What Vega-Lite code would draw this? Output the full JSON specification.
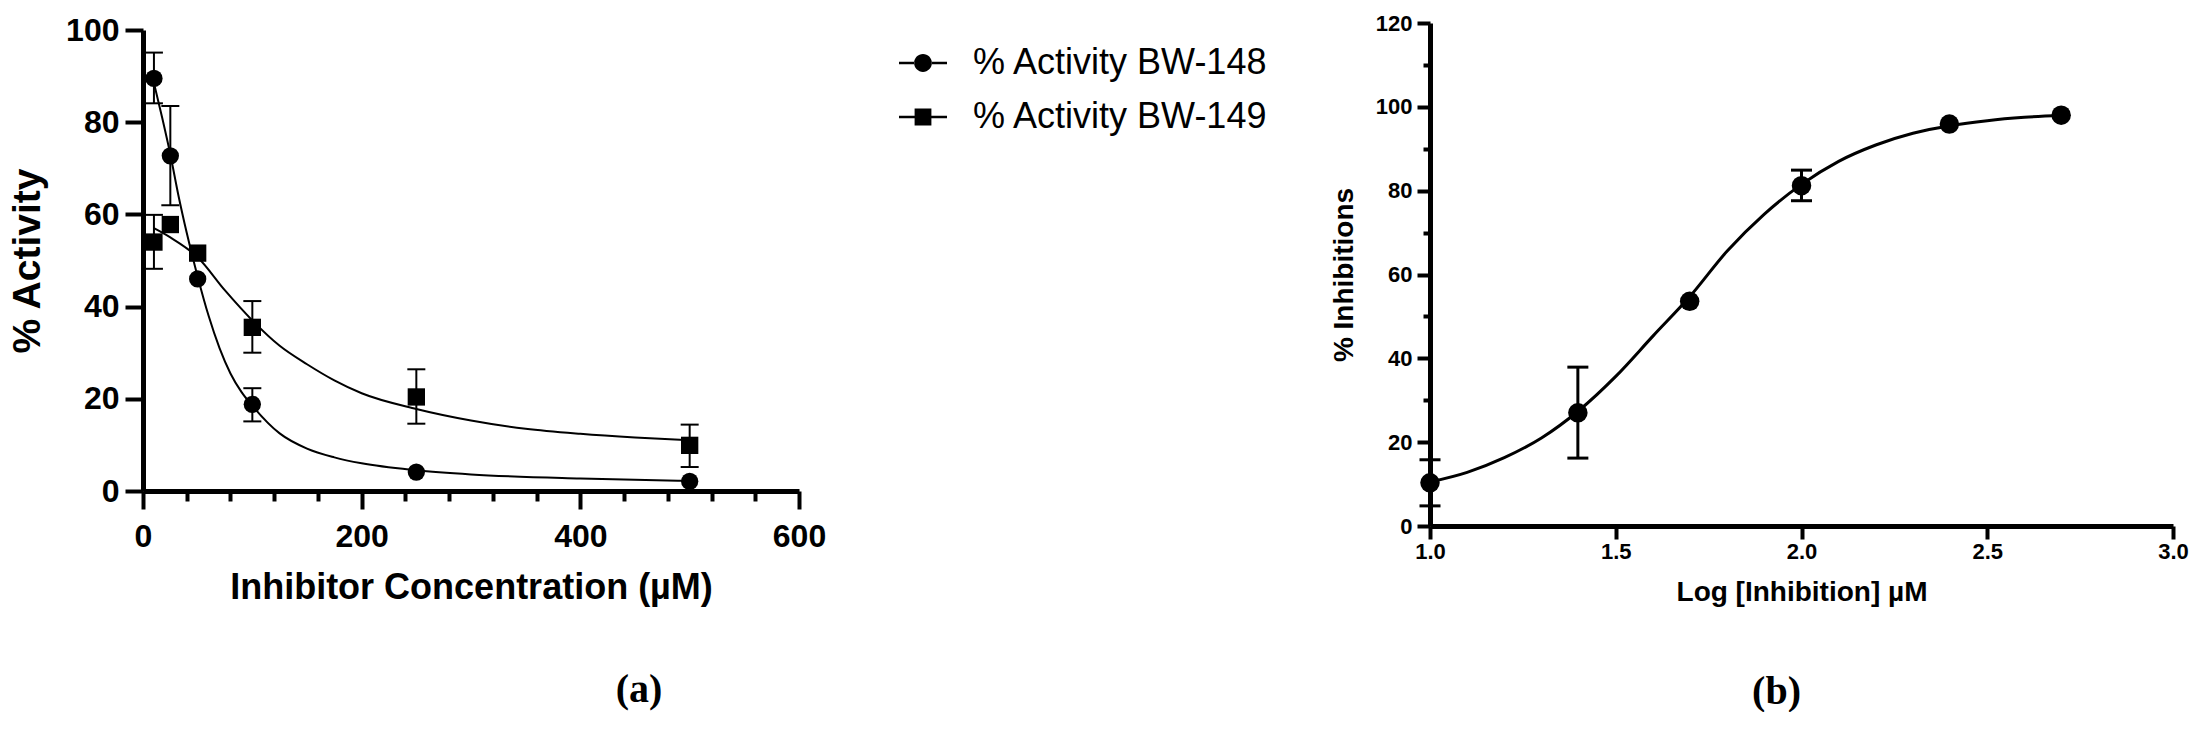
{
  "$schema": "https://vega.github.io/schema/vega-lite/v6.json",
  "background": "white",
  "padding": {"left": 8, "top": 12, "right": 0, "bottom": 0},
  "bounds": "flush",
  "spacing": 1287,
  "datasets": {
    "pts_a": [
      {"series": "% Activity BW-148", "conc": 10, "y": 89.5, "lo": 84.1, "hi": 95.1},
      {"series": "% Activity BW-148", "conc": 25, "y": 72.7, "lo": 62.0, "hi": 83.5},
      {"series": "% Activity BW-148", "conc": 50, "y": 46.0, "lo": null, "hi": null},
      {"series": "% Activity BW-148", "conc": 100, "y": 18.8, "lo": 15.1, "hi": 22.3},
      {"series": "% Activity BW-148", "conc": 250, "y": 4.1, "lo": null, "hi": null},
      {"series": "% Activity BW-148", "conc": 500, "y": 2.1, "lo": null, "hi": null},
      {"series": "% Activity BW-149", "conc": 10, "y": 54.0, "lo": 48.2, "hi": 59.9},
      {"series": "% Activity BW-149", "conc": 25, "y": 57.8, "lo": null, "hi": null},
      {"series": "% Activity BW-149", "conc": 50, "y": 51.6, "lo": null, "hi": null},
      {"series": "% Activity BW-149", "conc": 100, "y": 35.5, "lo": 30.0, "hi": 41.2},
      {"series": "% Activity BW-149", "conc": 250, "y": 20.4, "lo": 14.6, "hi": 26.4},
      {"series": "% Activity BW-149", "conc": 500, "y": 9.9, "lo": 5.2, "hi": 14.4}
    ],
    "curve_a": [
      {"series": "% Activity BW-148", "conc": 10, "y": 88.5},
      {"series": "% Activity BW-148", "conc": 17.5, "y": 81},
      {"series": "% Activity BW-148", "conc": 25, "y": 73},
      {"series": "% Activity BW-148", "conc": 32.5, "y": 64},
      {"series": "% Activity BW-148", "conc": 40, "y": 56},
      {"series": "% Activity BW-148", "conc": 50, "y": 46.5},
      {"series": "% Activity BW-148", "conc": 60, "y": 38},
      {"series": "% Activity BW-148", "conc": 70, "y": 31},
      {"series": "% Activity BW-148", "conc": 80, "y": 25.5},
      {"series": "% Activity BW-148", "conc": 90, "y": 21.5},
      {"series": "% Activity BW-148", "conc": 100, "y": 18.5},
      {"series": "% Activity BW-148", "conc": 125, "y": 12.5},
      {"series": "% Activity BW-148", "conc": 150, "y": 9.2},
      {"series": "% Activity BW-148", "conc": 175, "y": 7.3},
      {"series": "% Activity BW-148", "conc": 200, "y": 6.0},
      {"series": "% Activity BW-148", "conc": 250, "y": 4.5},
      {"series": "% Activity BW-148", "conc": 300, "y": 3.6},
      {"series": "% Activity BW-148", "conc": 400, "y": 2.7},
      {"series": "% Activity BW-148", "conc": 500, "y": 2.2},
      {"series": "% Activity BW-149", "conc": 10, "y": 57},
      {"series": "% Activity BW-149", "conc": 25, "y": 55},
      {"series": "% Activity BW-149", "conc": 50, "y": 50.7},
      {"series": "% Activity BW-149", "conc": 75, "y": 43.5},
      {"series": "% Activity BW-149", "conc": 100, "y": 37},
      {"series": "% Activity BW-149", "conc": 125, "y": 31.5},
      {"series": "% Activity BW-149", "conc": 150, "y": 27.5},
      {"series": "% Activity BW-149", "conc": 175, "y": 24},
      {"series": "% Activity BW-149", "conc": 200, "y": 21.2},
      {"series": "% Activity BW-149", "conc": 250, "y": 17.8},
      {"series": "% Activity BW-149", "conc": 300, "y": 15.3},
      {"series": "% Activity BW-149", "conc": 350, "y": 13.5},
      {"series": "% Activity BW-149", "conc": 400, "y": 12.4},
      {"series": "% Activity BW-149", "conc": 450, "y": 11.6},
      {"series": "% Activity BW-149", "conc": 500, "y": 11.0}
    ],
    "pts_b": [
      {"logc": 1.0, "y": 10.3, "lo": 4.8, "hi": 15.8},
      {"logc": 1.398, "y": 27.0, "lo": 16.2, "hi": 37.9},
      {"logc": 1.699, "y": 53.6, "lo": null, "hi": null},
      {"logc": 2.0, "y": 81.2, "lo": 77.6, "hi": 84.9},
      {"logc": 2.398, "y": 95.9, "lo": null, "hi": null},
      {"logc": 2.699, "y": 98.0, "lo": null, "hi": null}
    ],
    "curve_b": [
      {"logc": 1.0, "y": 10.5},
      {"logc": 1.1, "y": 12.8},
      {"logc": 1.2, "y": 16.3},
      {"logc": 1.3, "y": 21.0},
      {"logc": 1.4, "y": 27.5},
      {"logc": 1.5, "y": 35.7},
      {"logc": 1.6, "y": 45.3},
      {"logc": 1.7, "y": 54.8},
      {"logc": 1.8, "y": 65.6},
      {"logc": 1.9, "y": 74.4},
      {"logc": 2.0, "y": 81.5},
      {"logc": 2.1, "y": 87.0},
      {"logc": 2.2, "y": 90.9},
      {"logc": 2.3, "y": 93.7},
      {"logc": 2.4, "y": 95.5},
      {"logc": 2.5, "y": 96.7},
      {"logc": 2.6, "y": 97.5},
      {"logc": 2.7, "y": 98.0}
    ]
  },
  "hconcat": [
    {
      "bounds": "flush",
      "spacing": 0,
      "vconcat": [
        {
          "width": 20,
          "height": 7,
          "data": {"values": []},
          "mark": "point"
        },
        {
          "width": 656,
          "height": 461,
          "title": {"text": "(a)", "orient": "bottom", "anchor": "middle", "frame": "group", "dx": 168, "offset": 65, "font": "Liberation Serif", "fontSize": 40, "fontWeight": "bold", "color": "black"},
          "layer": [
            {
              "data": {"name": "curve_a"},
              "mark": {"type": "line", "interpolate": "monotone", "color": "black", "strokeWidth": 2},
              "encoding": {
                "x": {
                  "field": "conc", "type": "quantitative", "title": "Inhibitor Concentration (µM)",
                  "scale": {"domain": [0, 600], "nice": false},
                  "axis": {
                    "values": [0, 20, 40, 60, 80, 100, 120, 140, 160, 180, 200, 220, 240, 260, 280, 300, 320, 340, 360, 380, 400, 420, 440, 460, 480, 500, 520, 540, 560, 580, 600],
                    "labelExpr": "datum.value % 200 === 0 ? datum.label : ''",
                    "labelOverlap": false,
                    "tickSize": {"condition": {"test": "datum.value % 200 !== 0", "value": 10}, "value": 18},
                    "labelFontSize": 32, "labelPadding": 12, "labelFlush": false,
                    "titleFontSize": 36, "titlePadding": 18
                  }
                },
                "y": {
                  "field": "y", "type": "quantitative", "title": "% Activity",
                  "scale": {"domain": [0, 100], "nice": false},
                  "axis": {
                    "values": [0, 20, 40, 60, 80, 100],
                    "labelOverlap": false,
                    "tickSize": 18,
                    "labelFontSize": 32, "labelPadding": 6,
                    "titleFontSize": 39, "titlePadding": 18
                  }
                },
                "detail": {"field": "series"}
              }
            },
            {
              "data": {"name": "pts_a"},
              "transform": [{"filter": "datum.lo != null"}],
              "mark": {"type": "rule", "color": "black", "strokeWidth": 2},
              "encoding": {
                "x": {"field": "conc", "type": "quantitative", "title": "Inhibitor Concentration (µM)"},
                "y": {"field": "lo", "type": "quantitative", "title": "% Activity"},
                "y2": {"field": "hi"}
              }
            },
            {
              "data": {"name": "pts_a"},
              "transform": [{"filter": "datum.lo != null"}],
              "mark": {"type": "tick", "orient": "horizontal", "color": "black", "opacity": 1, "size": 18, "thickness": 2},
              "encoding": {
                "x": {"field": "conc", "type": "quantitative", "title": "Inhibitor Concentration (µM)"},
                "y": {"field": "lo", "type": "quantitative", "title": "% Activity"}
              }
            },
            {
              "data": {"name": "pts_a"},
              "transform": [{"filter": "datum.lo != null"}],
              "mark": {"type": "tick", "orient": "horizontal", "color": "black", "opacity": 1, "size": 18, "thickness": 2},
              "encoding": {
                "x": {"field": "conc", "type": "quantitative", "title": "Inhibitor Concentration (µM)"},
                "y": {"field": "hi", "type": "quantitative", "title": "% Activity"}
              }
            },
            {
              "data": {"name": "pts_a"},
              "mark": {"type": "point", "filled": true, "color": "black", "opacity": 1, "size": 300},
              "encoding": {
                "x": {"field": "conc", "type": "quantitative", "title": "Inhibitor Concentration (µM)"},
                "y": {"field": "y", "type": "quantitative", "title": "% Activity"},
                "shape": {
                  "field": "series", "type": "nominal",
                  "scale": {"domain": ["% Activity BW-148", "% Activity BW-149"], "range": ["circle", "square"]},
                  "legend": null
                }
              }
            },
            {
              "data": {"name": "pts_a"},
              "transform": [{"filter": {"field": "series", "equal": "none"}}],
              "mark": {"type": "point", "filled": true, "color": "black", "opacity": 1},
              "encoding": {
                "x": {"field": "conc", "type": "quantitative", "title": "Inhibitor Concentration (µM)"},
                "y": {"field": "y", "type": "quantitative", "title": "% Activity"},
                "shape": {
                  "field": "series", "type": "nominal",
                  "scale": {
                    "domain": ["% Activity BW-148", "% Activity BW-149"],
                    "range": [
                      "M-1,-0.055L-0.36,-0.055L-0.36,0.055L-1,0.055Z M0.36,-0.055L1,-0.055L1,0.055L0.36,0.055Z M-0.37,0A0.37,0.37,0,1,0,0.37,0A0.37,0.37,0,1,0,-0.37,0Z",
                      "M-1,-0.055L-0.35,-0.055L-0.35,0.055L-1,0.055Z M0.35,-0.055L1,-0.055L1,0.055L0.35,0.055Z M-0.35,-0.35L0.35,-0.35L0.35,0.35L-0.35,0.35Z"
                    ]
                  },
                  "legend": {
                    "title": null,
                    "orient": "none",
                    "legendX": 756,
                    "legendY": 9,
                    "symbolSize": 2304,
                    "symbolFillColor": "black",
                    "symbolStrokeWidth": 0,
                    "labelFont": "Liberation Sans",
                    "labelFontSize": 36,
                    "labelColor": "black",
                    "labelOffset": 26,
                    "rowPadding": 12,
                    "labelLimit": 600
                  }
                }
              }
            }
          ],
          "resolve": {"scale": {"shape": "independent"}}
        }
      ]
    },
    {
      "width": 743,
      "height": 503,
      "title": {"text": "(b)", "orient": "bottom", "anchor": "middle", "frame": "group", "dx": -25, "offset": 66, "font": "Liberation Serif", "fontSize": 40, "fontWeight": "bold", "color": "black"},
      "layer": [
        {
          "data": {"name": "curve_b"},
          "mark": {"type": "line", "interpolate": "monotone", "color": "black", "strokeWidth": 3},
          "encoding": {
            "x": {
              "field": "logc", "type": "quantitative", "title": "Log [Inhibition] µM",
              "scale": {"domain": [1, 3], "nice": false, "zero": false},
              "axis": {
                "values": [1.0, 1.5, 2.0, 2.5, 3.0],
                "format": ".1f",
                "labelOverlap": false,
                "tickSize": 13,
                "labelFontSize": 22, "labelPadding": 2, "labelFlush": false,
                "titleFontSize": 28, "titlePadding": 16
              }
            },
            "y": {
              "field": "y", "type": "quantitative", "title": "% Inhibitions",
              "scale": {"domain": [0, 120], "nice": false},
              "axis": {
                "values": [0, 10, 20, 30, 40, 50, 60, 70, 80, 90, 100, 110, 120],
                "labelExpr": "datum.value % 20 === 0 ? datum.label : ''",
                "labelOverlap": false,
                "tickSize": {"condition": {"test": "datum.value % 20 !== 0", "value": 7}, "value": 13},
                "labelFontSize": 22, "labelPadding": 5,
                "titleFontSize": 28, "titlePadding": 17
              }
            }
          }
        },
        {
          "data": {"name": "pts_b"},
          "transform": [{"filter": "datum.lo != null"}],
          "mark": {"type": "rule", "color": "black", "strokeWidth": 3},
          "encoding": {
            "x": {"field": "logc", "type": "quantitative", "title": "Log [Inhibition] µM"},
            "y": {"field": "lo", "type": "quantitative", "title": "% Inhibitions"},
            "y2": {"field": "hi"}
          }
        },
        {
          "data": {"name": "pts_b"},
          "transform": [{"filter": "datum.lo != null"}],
          "mark": {"type": "tick", "orient": "horizontal", "color": "black", "opacity": 1, "size": 21, "thickness": 3},
          "encoding": {
            "x": {"field": "logc", "type": "quantitative", "title": "Log [Inhibition] µM"},
            "y": {"field": "lo", "type": "quantitative", "title": "% Inhibitions"}
          }
        },
        {
          "data": {"name": "pts_b"},
          "transform": [{"filter": "datum.lo != null"}],
          "mark": {"type": "tick", "orient": "horizontal", "color": "black", "opacity": 1, "size": 21, "thickness": 3},
          "encoding": {
            "x": {"field": "logc", "type": "quantitative", "title": "Log [Inhibition] µM"},
            "y": {"field": "hi", "type": "quantitative", "title": "% Inhibitions"}
          }
        },
        {
          "data": {"name": "pts_b"},
          "mark": {"type": "point", "shape": "circle", "filled": true, "color": "black", "opacity": 1, "size": 380},
          "encoding": {
            "x": {"field": "logc", "type": "quantitative", "title": "Log [Inhibition] µM"},
            "y": {"field": "y", "type": "quantitative", "title": "% Inhibitions"}
          }
        }
      ]
    }
  ],
  "config": {
    "view": {"stroke": null},
    "font": "Liberation Sans",
    "axis": {
      "grid": false,
      "labelOverlap": false,
      "domainColor": "black",
      "domainWidth": 5,
      "tickColor": "black",
      "tickWidth": 4,
      "labelColor": "black",
      "labelFont": "Liberation Sans",
      "labelFontWeight": "bold",
      "titleColor": "black",
      "titleFont": "Liberation Sans",
      "titleFontWeight": "bold"
    }
  }
}
